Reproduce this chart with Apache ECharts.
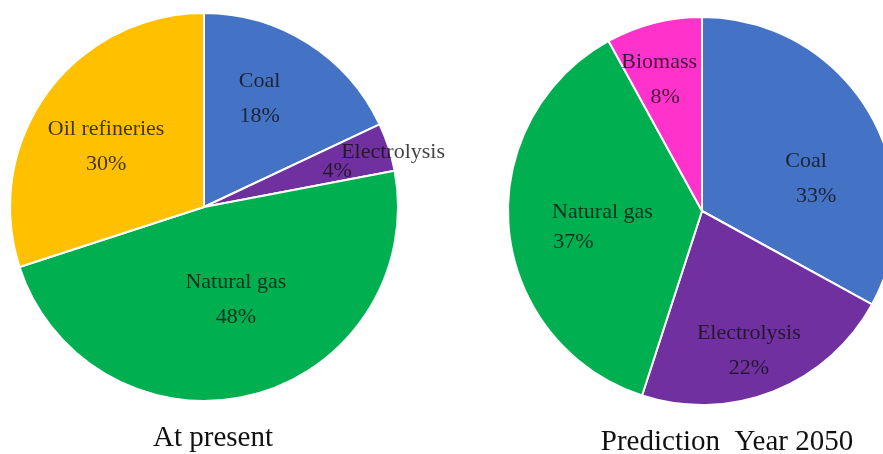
<!DOCTYPE html>
<html>
<head>
<meta charset="utf-8">
<script src="https://cdn.jsdelivr.net/npm/echarts@6/dist/echarts.min.js"></script>
<style>
  html, body { margin: 0; padding: 0; background: #fff; }
  #chart { width: 883px; height: 454px; }
</style>
</head>
<body>
<div id="chart"></div>
<script>
  // data
  var presentNames = ['Coal', 'Electrolysis', 'Natural gas', 'Oil refineries']
  var presentValues = [18, 4, 48, 30]
  var futureNames = ['Coal', 'Electrolysis', 'Natural gas', 'Biomass']
  var futureValues = [33, 22, 37, 8]
  var chartTitles = ['At present', 'Prediction  Year 2050']

  var colors = {
    'Coal': '#4472C4',
    'Electrolysis': '#7030A0',
    'Natural gas': '#00B050',
    'Oil refineries': '#FFC000',
    'Biomass': '#FF33CC',
  }

  // label nudges, the picture places them by hand
  var presentLabels = {
    'Coal': { offset: [2, -24] },
    'Electrolysis': {
      offset: [94, -14],
      formatter: '{n|{b}}\n{p|{c}%}',
      lineHeight: 19,
      rich: {
        n: { lineHeight: 19 },
        p: { lineHeight: 19, padding: [0, 112, 0, 0] },
      },
    },
    'Natural gas': { offset: [7, -4] },
    'Oil refineries': { offset: [-17, -2] },
  }
  var futureLabels = {
    'Coal': {
      offset: [18, 19],
      formatter: '{n|{b}}\n{p|{c}%}',
      rich: { p: { padding: [0, 0, 0, 20] } },
    },
    'Electrolysis': { offset: [10, 47] },
    'Natural gas': {
      offset: [0, 7],
      formatter: '{n|{b}}\n{p|{c}%}',
      lineHeight: 30,
      rich: {
        n: { lineHeight: 30 },
        p: { lineHeight: 30, padding: [0, 58, 0, 0] },
      },
    },
    'Biomass': {
      offset: [-18, -34],
      formatter: '{n|{b}}\n{p|{c}%}',
      rich: { p: { padding: [0, 0, 0, 12] } },
    },
  }

  function buildData (names, values, tweaks) {
    return names.map(function (n, i) {
      return {
        name: n,
        value: values[i],
        itemStyle: { color: colors[n] },
        label: tweaks[n] || {},
      }
    })
  }

  var labelStyle = {
    show: true,
    position: 'inside',
    formatter: '{b}\n{c}%',
    fontFamily: 'Liberation Serif',
    fontSize: 22,
    lineHeight: 35,
    color: '#111',
    opacity: 0.8,
  }

  var chart = echarts.init(document.getElementById('chart'))
  var option = {
    animation: false,
    title: [
      {
        text: chartTitles[0],
        left: 208, top: 419, textAlign: 'center',
        textStyle: { fontFamily: 'Liberation Serif', fontSize: 29, fontWeight: 'normal', color: '#111' },
      },
      {
        text: chartTitles[1],
        left: 722, top: 423, textAlign: 'center',
        textStyle: { fontFamily: 'Liberation Serif', fontSize: 29, fontWeight: 'normal', color: '#111' },
      },
    ],
    series: [
      {
        type: 'pie',
        center: [204, 207],
        radius: 194,
        startAngle: 90,
        clockwise: true,
        label: labelStyle,
        labelLine: { show: false },
        itemStyle: { borderColor: '#fff', borderWidth: 2 },
        emphasis: { disabled: true },
        data: buildData(presentNames, presentValues, presentLabels),
      },
      {
        type: 'pie',
        center: [702, 211],
        radius: 194,
        startAngle: 90,
        clockwise: true,
        label: labelStyle,
        labelLine: { show: false },
        itemStyle: { borderColor: '#fff', borderWidth: 2 },
        emphasis: { disabled: true },
        data: buildData(futureNames, futureValues, futureLabels),
      },
    ],
  }
  chart.setOption(option)
</script>
</body>
</html>
